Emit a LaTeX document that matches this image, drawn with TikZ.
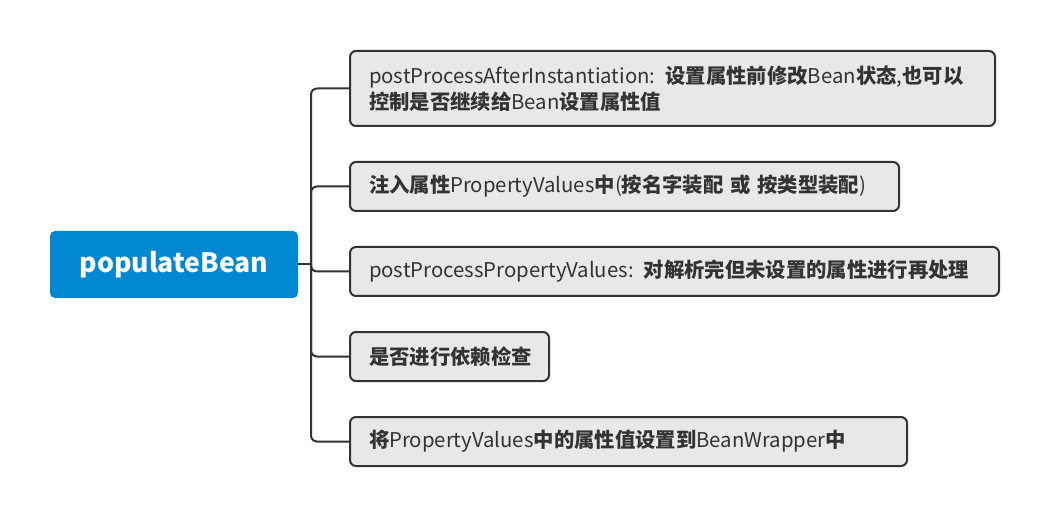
\documentclass[tikz,border=0pt]{standalone}
\usepackage{fontspec}
\setmainfont{Noto Sans CJK SC}
\definecolor{rootblue}{RGB}{2,136,209}
\definecolor{leaffill}{RGB}{232,232,232}
\definecolor{linec}{RGB}{51,51,51}
\newcommand{\zh}[1]{{\bfseries #1}}
\tikzset{
  rootbox/.style={fill=rootblue, rounded corners=3.75pt, minimum width=186pt, minimum height=50.25pt,
    text=white, font=\fontsize{20}{24}\selectfont\bfseries, inner sep=0pt},
  leafbox/.style={draw=linec, line width=1.5pt, fill=leaffill, rounded corners=4.5pt, anchor=west,
    align=left, inner xsep=14.25pt, inner ysep=0pt, minimum height=36.75pt, text=linec,
    font=\fontsize{15.25}{19.5}\selectfont},
  conn/.style={draw=linec, line width=1.5pt},
}
\begin{document}
\begin{tikzpicture}[x=0.75pt,y=-0.75pt]
\useasboundingbox (0,0) rectangle (1048,516);
\node[rootbox] (root) at (174,264.5) {populateBean};
\node[leafbox, minimum height=56.25pt, text width=455.25pt] (b1) at (349,88.5)
  {postProcessAfterInstantiation: \zh{设置属性前修改}Bean\zh{状态},\zh{也可以}\\\zh{控制是否继续给}Bean\zh{设置属性值}};
\node[leafbox, text width=383.25pt] (b2) at (349,186.5)
  {\mbox{\zh{注入属性}PropertyValues\zh{中}(\zh{按名字装配} \zh{或} \zh{按类型装配})}};
\node[leafbox, text width=458.25pt] (b3) at (349,271.5)
  {\mbox{postProcessPropertyValues: \zh{对解析完但未设置的属性进行再处理}}};
\node[leafbox, text width=120.75pt] (b4) at (349,356.5)
  {\mbox{\zh{是否进行依赖检查}}};
\node[leafbox, text width=389.25pt] (b5) at (349,441.5)
  {\mbox{\zh{将}PropertyValues\zh{中的属性值设置到}BeanWrapper\zh{中}}};
\coordinate (j) at (311,264.5);
\draw[conn] (root.east) -- (j);
\foreach \b in {b1,b2,b3,b4,b5}
  \draw[conn, rounded corners=4.5pt] (j) |- (\b.west);
\end{tikzpicture}
\end{document}
